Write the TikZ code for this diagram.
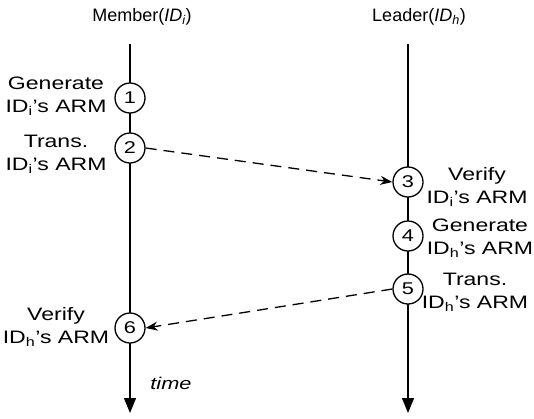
\documentclass[tikz,border=0pt]{standalone}
\usepackage{fontspec}
\setmainfont{Liberation Sans}
\newfontfamily\wideSans[FakeStretch=1.28]{Liberation Sans}
\usetikzlibrary{arrows.meta}
\begin{document}
\begin{tikzpicture}[x=1pt,y=-1pt,
  stepcirc/.style={circle,draw,line width=1.3pt,fill=white,minimum size=30pt,inner sep=0pt,font=\wideSans\fontsize{17}{17}\selectfont},
  lbl/.style={align=center,font=\wideSans\fontsize{18}{23}\selectfont,inner sep=0pt},
  ttl/.style={align=center,font=\fontsize{18}{23}\selectfont,inner sep=0pt},
  lifeline/.style={line width=1.4pt,-{Triangle[length=15pt,width=12pt]}},
  msg/.style={line width=1.3pt,dash pattern=on 11pt off 7pt,-{Stealth[length=12pt,width=9pt]}}]
\useasboundingbox (0,0) rectangle (534,418);
\node[ttl] (tm) at (142,17) {Member(\textit{ID\textsubscript{i}})};
\node[ttl] (tl) at (419,17) {Leader(\textit{ID\textsubscript{h}})};
\coordinate (mtop) at (130,44);
\coordinate (mbot) at (130,413);
\coordinate (ltop) at (408,44);
\coordinate (lbot) at (408,413);
\draw[lifeline] (mtop) -- (mbot);
\draw[lifeline] (ltop) -- (lbot);
\node[stepcirc] (s1) at (130,98) {1};
\node[stepcirc] (s2) at (130,148) {2};
\node[stepcirc] (s3) at (408,182) {3};
\node[stepcirc] (s4) at (408,236) {4};
\node[stepcirc] (s5) at (408,289) {5};
\node[stepcirc] (s6) at (130,328) {6};
\draw[msg] (s2.east) -- (s3.west);
\draw[msg] (s5.west) -- (s6.east);
\node[lbl] (l1) at (56,96) {Generate\\ID\textsubscript{i}’s ARM};
\node[lbl] (l2) at (56,154) {Trans.\\ID\textsubscript{i}’s ARM};
\node[lbl] (l3) at (477,187) {Verify\\ID\textsubscript{i}’s ARM};
\node[lbl] (l4) at (480,238) {Generate\\ID\textsubscript{h}’s ARM};
\node[lbl] (l5) at (475,292) {Trans.\\ID\textsubscript{h}’s ARM};
\node[lbl] (l6) at (56,327) {Verify\\ID\textsubscript{h}’s ARM};
\node[lbl,font=\wideSans\fontsize{17}{20}\selectfont\itshape] (tt) at (171,383) {time};
\end{tikzpicture}
\end{document}
